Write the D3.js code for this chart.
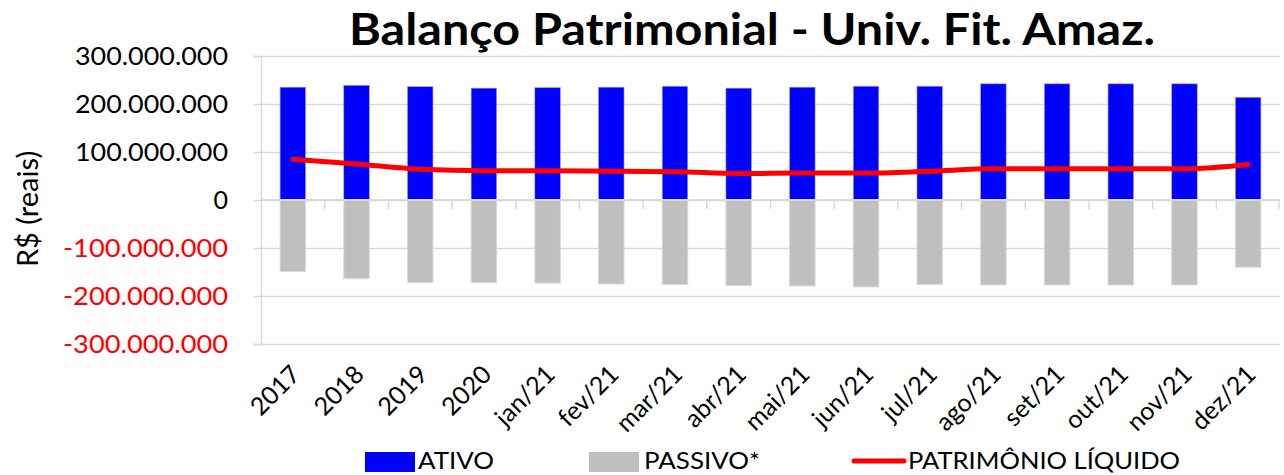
<!DOCTYPE html>
<html>
<head>
<meta charset="utf-8">
<script src="https://cdn.jsdelivr.net/npm/d3@7.9.0/dist/d3.min.js"></script>
<style>
  body { margin: 0; background: #fff; }
  svg { display: block; font-family: Lato, "Open Sans", sans-serif; }
</style>
</head>
<body>
<svg id="chart" width="1284" height="475"></svg>
<script>
const categories = ['2017', '2018', '2019', '2020', 'jan/21', 'fev/21', 'mar/21', 'abr/21',
  'mai/21', 'jun/21', 'jul/21', 'ago/21', 'set/21', 'out/21', 'nov/21', 'dez/21'];
// valores em milhões de reais
const ativo = [235, 239, 236, 233, 234, 235, 237, 233, 235, 237, 237, 242, 242, 242, 242, 214];
const passivo = [-149, -164, -172, -172, -173, -175, -176, -178, -179, -181, -176, -177, -177, -177, -177, -140];
const patrimonio = [85, 75, 64, 61, 61, 60, 59, 55, 56, 56, 60, 65, 65, 65, 65, 74];
const yTicks = [-300, -200, -100, 0, 100, 200, 300];

const svg = d3.select('#chart');
const plotLeft = 261, plotRight = 1280, plotTop = 56, plotBottom = 344;

const x = d3.scaleBand().domain(categories).range([plotLeft, plotRight]).padding(0);
const y = d3.scaleLinear().domain([-300, 300]).range([plotBottom, plotTop]);
const bw = x.bandwidth();

const br = d3.formatLocale({ decimal: ',', thousands: '.', grouping: [3], currency: ['R$', ''], minus: '-' });
const fmt = v => v === 0 ? '0' : br.format(',')(v * 1e6);

// title
svg.append('text')
  .attr('x', 752).attr('y', 45)
  .attr('text-anchor', 'middle')
  .attr('font-size', 44).attr('font-weight', 'bold')
  .attr('textLength', 806).attr('lengthAdjust', 'spacingAndGlyphs')
  .text('Balanço Patrimonial - Univ. Fit. Amaz.');

// y axis + grid
const yAxis = svg.append('g')
  .attr('transform', `translate(${plotLeft},0)`)
  .call(d3.axisLeft(y).tickValues(yTicks).tickFormat(fmt).tickSize(8).tickPadding(25));
yAxis.select('.domain').attr('stroke', '#d9d9d9').attr('stroke-width', 1.5);
yAxis.selectAll('.tick line').attr('stroke', '#d9d9d9').attr('stroke-width', 1.5);
yAxis.selectAll('.tick').append('line')
  .attr('x1', 0).attr('x2', plotRight - plotLeft)
  .attr('stroke', '#d9d9d9').attr('stroke-width', 1.5);
yAxis.selectAll('.tick text')
  .attr('font-size', 25)
  .attr('font-family', 'Lato, sans-serif')
  .attr('fill', d => d < 0 ? '#ff0000' : '#000')
  .attr('textLength', d => d === 0 ? null : (d < 0 ? 165 : 153))
  .attr('lengthAdjust', 'spacingAndGlyphs');

// y title
svg.append('text')
  .attr('transform', 'translate(38,209) rotate(-90)')
  .attr('text-anchor', 'middle')
  .attr('font-size', 29)
  .text('R$ (reais)');

// bars
svg.append('g').selectAll('rect')
  .data(categories)
  .join('rect')
  .attr('x', d => x(d) + bw * 0.3)
  .attr('width', bw * 0.4)
  .attr('y', (d, i) => y(ativo[i]))
  .attr('height', (d, i) => y(0) - y(ativo[i]))
  .attr('fill', '#0000ff')
  .attr('stroke', '#9999ff').attr('stroke-width', 0.6);

svg.append('g').selectAll('rect')
  .data(categories)
  .join('rect')
  .attr('x', d => x(d) + bw * 0.3)
  .attr('width', bw * 0.4)
  .attr('y', y(0))
  .attr('height', (d, i) => y(passivo[i]) - y(0))
  .attr('fill', '#bfbfbf')
  .attr('stroke', '#d9d9d9').attr('stroke-width', 1);

// category axis on zero line
const xAxis = svg.append('g')
  .attr('transform', `translate(0,${y(0)})`);
xAxis.append('line')
  .attr('x1', plotLeft).attr('x2', plotRight)
  .attr('stroke', '#d9d9d9').attr('stroke-width', 2);
xAxis.selectAll('line.tk')
  .data(categories.slice(1).concat(['end']))
  .join('line')
  .attr('class', 'tk')
  .attr('x1', d => d === 'end' ? plotRight - 1 : x(d))
  .attr('x2', d => d === 'end' ? plotRight - 1 : x(d))
  .attr('y1', 0).attr('y2', 9)
  .attr('stroke', '#d9d9d9').attr('stroke-width', 1.5);

// category labels at bottom
svg.append('g').selectAll('text')
  .data(categories)
  .join('text')
  .attr('transform', d => `translate(${x(d) + bw / 2 + 9},${plotBottom + 32}) rotate(-45)`)
  .attr('text-anchor', 'end')
  .attr('font-size', 25)
  .text(d => d);

// patrimonio line
const line = d3.line()
  .x((d, i) => x(categories[i]) + bw / 2)
  .y(d => y(d))
  .curve(d3.curveMonotoneX);
svg.append('path')
  .datum(patrimonio)
  .attr('d', line)
  .attr('fill', 'none')
  .attr('stroke', '#ff0000')
  .attr('stroke-width', 5)
  .attr('stroke-linecap', 'round');

// legend
const lg = svg.append('g');
lg.append('rect').attr('x', 365).attr('y', 452).attr('width', 50).attr('height', 20).attr('fill', '#0000ff');
lg.append('text').attr('x', 418).attr('y', 469).attr('font-size', 24)
  .attr('textLength', 76).attr('lengthAdjust', 'spacingAndGlyphs').text('ATIVO');
lg.append('rect').attr('x', 589).attr('y', 452).attr('width', 50).attr('height', 20).attr('fill', '#bfbfbf');
lg.append('text').attr('x', 644).attr('y', 469).attr('font-size', 24)
  .attr('textLength', 116).attr('lengthAdjust', 'spacingAndGlyphs').text('PASSIVO*');
lg.append('line').attr('x1', 854).attr('x2', 904).attr('y1', 461).attr('y2', 461)
  .attr('stroke', '#ff0000').attr('stroke-width', 5).attr('stroke-linecap', 'round');
lg.append('text').attr('x', 908).attr('y', 469).attr('font-size', 24)
  .attr('textLength', 272).attr('lengthAdjust', 'spacingAndGlyphs').text('PATRIMÔNIO LÍQUIDO');
</script>
</body>
</html>
